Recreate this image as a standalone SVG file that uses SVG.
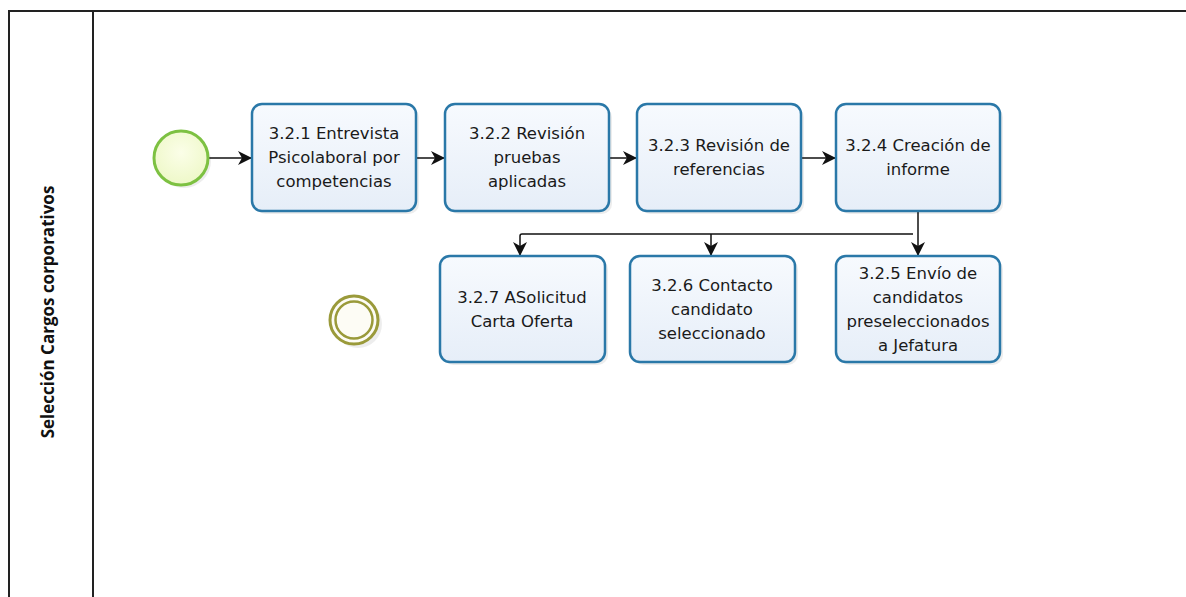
<svg xmlns="http://www.w3.org/2000/svg" width="1186" height="597" viewBox="0 0 1186 597">
<style>
.lane{fill:none;stroke:#222;stroke-width:2}
.task{fill:url(#tg);stroke:#2a78a8;stroke-width:2.5}
.sh{fill:#000;opacity:0.07}
.t{font-family:"DejaVu Sans","Open Sans",sans-serif;font-size:16.5px;fill:#1a1a1a;text-anchor:middle}
.lbl{font-family:"Open Sans","DejaVu Sans",sans-serif;font-size:17px;font-weight:bold;fill:#111;text-anchor:middle}
.c{fill:none;stroke:#111;stroke-width:1.5}
</style>
<defs>
<linearGradient id="tg" x1="0" y1="0" x2="0" y2="1"><stop offset="0" stop-color="#f7fafe"/><stop offset="1" stop-color="#e6eef8"/></linearGradient>
<radialGradient id="sg" cx="0.5" cy="0.4" r="0.6"><stop offset="0" stop-color="#fbfee8"/><stop offset="1" stop-color="#eef8c8"/></radialGradient>
<marker id="ar" markerWidth="14" markerHeight="14" viewBox="0 0 14 14" refX="13" refY="7" orient="auto" markerUnits="userSpaceOnUse"><path d="M0,0 L14,7 L0,14 L4,7 Z" fill="#111"/></marker>
</defs>
<rect width="1186" height="597" fill="#fff"/>
<g id="pool">
<path class="lane" d="M9,600 V11 H1190"/>
<line class="lane" x1="93" y1="11" x2="93" y2="600"/>
<text class="lbl" transform="translate(54,312) rotate(-90)">Selección Cargos corporativos</text>
</g>
<g id="connectors">
<line class="c" x1="209" y1="158" x2="251" y2="158" marker-end="url(#ar)"/>
<line class="c" x1="416" y1="158" x2="444" y2="158" marker-end="url(#ar)"/>
<line class="c" x1="609" y1="158" x2="636" y2="158" marker-end="url(#ar)"/>
<line class="c" x1="801" y1="158" x2="835" y2="158" marker-end="url(#ar)"/>
<line class="c" x1="918" y1="211" x2="918" y2="255" marker-end="url(#ar)"/>
<path class="c" d="M913,234 H522 Q520,234 520,236 V255" marker-end="url(#ar)"/>
<path class="c" d="M711,234 V255" marker-end="url(#ar)"/>
</g>
<g id="start">
<circle cx="184" cy="161" r="27" class="sh"/>
<circle cx="181" cy="158" r="27" fill="url(#sg)" stroke="#7dc142" stroke-width="3"/>
</g>
<g id="end">
<circle cx="358" cy="324" r="24" class="sh"/>
<circle cx="354" cy="320" r="24" fill="#fdfcf5" stroke="#9a9a3a" stroke-width="3"/>
<circle cx="354" cy="320" r="18.5" fill="none" stroke="#9a9a3a" stroke-width="2.5"/>
</g>
<g id="t321">
<rect x="255" y="107" width="164" height="107" rx="10" class="sh"/>
<rect x="252" y="104" width="164" height="107" rx="10" class="task"/>
<text class="t" x="334" y="139">3.2.1 Entrevista</text>
<text class="t" x="334" y="163">Psicolaboral por</text>
<text class="t" x="334" y="187">competencias</text>
</g>
<g id="t322">
<rect x="448" y="107" width="164" height="107" rx="10" class="sh"/>
<rect x="445" y="104" width="164" height="107" rx="10" class="task"/>
<text class="t" x="527" y="139">3.2.2 Revisión</text>
<text class="t" x="527" y="163">pruebas</text>
<text class="t" x="527" y="187">aplicadas</text>
</g>
<g id="t323">
<rect x="640" y="107" width="164" height="107" rx="10" class="sh"/>
<rect x="637" y="104" width="164" height="107" rx="10" class="task"/>
<text class="t" x="719" y="151">3.2.3 Revisión de</text>
<text class="t" x="719" y="175">referencias</text>
</g>
<g id="t324">
<rect x="839" y="107" width="164" height="107" rx="10" class="sh"/>
<rect x="836" y="104" width="164" height="107" rx="10" class="task"/>
<text class="t" x="918" y="151">3.2.4 Creación de</text>
<text class="t" x="918" y="175">informe</text>
</g>
<g id="t327">
<rect x="443" y="259" width="165" height="106" rx="10" class="sh"/>
<rect x="440" y="256" width="165" height="106" rx="10" class="task"/>
<text class="t" x="522" y="303">3.2.7 ASolicitud</text>
<text class="t" x="522" y="327">Carta Oferta</text>
</g>
<g id="t326">
<rect x="633" y="259" width="165" height="106" rx="10" class="sh"/>
<rect x="630" y="256" width="165" height="106" rx="10" class="task"/>
<text class="t" x="712" y="291">3.2.6 Contacto</text>
<text class="t" x="712" y="315">candidato</text>
<text class="t" x="712" y="339">seleccionado</text>
</g>
<g id="t325">
<rect x="839" y="259" width="164" height="106" rx="10" class="sh"/>
<rect x="836" y="256" width="164" height="106" rx="10" class="task"/>
<text class="t" x="918" y="279">3.2.5 Envío de</text>
<text class="t" x="918" y="303">candidatos</text>
<text class="t" x="918" y="327">preseleccionados</text>
<text class="t" x="918" y="351">a Jefatura</text>
</g>
</svg>
